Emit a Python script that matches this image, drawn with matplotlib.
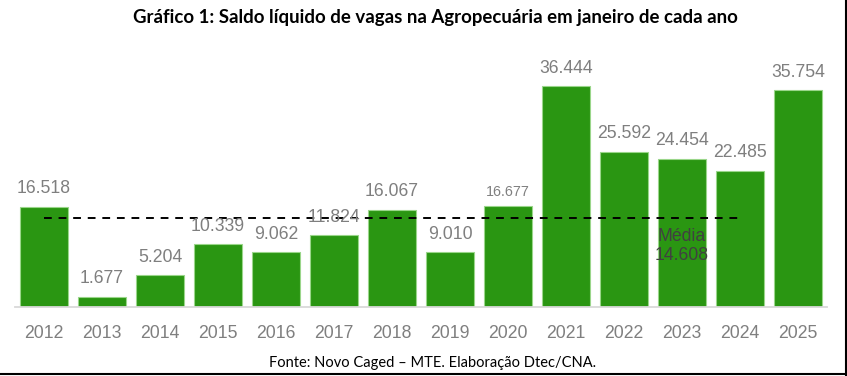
import matplotlib
matplotlib.use("Agg")
import matplotlib.pyplot as plt
from matplotlib.lines import Line2D

years = ["2012", "2013", "2014", "2015", "2016", "2017", "2018",
         "2019", "2020", "2021", "2022", "2023", "2024", "2025"]
values = [16518, 1677, 5204, 10339, 9062, 11824, 16067,
          9010, 16677, 36444, 25592, 24454, 22485, 35754]
labels = ["16.518", "1.677", "5.204", "10.339", "9.062", "11.824", "16.067",
          "9.010", "16.677", "36.444", "25.592", "24.454", "22.485", "35.754"]
media = 14608
media_label = "Média\n14.608"

W, H = 847, 376
fig = plt.figure(figsize=(W / 100, H / 100), dpi=100)
fig.patch.set_facecolor("white")

ax_left, ax_right = 15 / W, 827 / W
ax_bottom = (H - 307) / H
ytop = 40000
top_px = 307 - ytop / 165.0
ax_top = (H - top_px) / H
ax = fig.add_axes([ax_left, ax_bottom, ax_right - ax_left, ax_top - ax_bottom])

x = list(range(len(years)))
ax.bar(x, values, width=0.83, color="#2A9612", edgecolor="#9AD68A", linewidth=0.8, zorder=2)
ax.set_xlim(-0.5, len(years) - 0.5)
ax.set_ylim(0, ytop)

# mean line from first to 2024
ax.plot([0, 12], [media, media], color="black", linestyle=(0, (4, 3.5)), linewidth=1.4, zorder=3)

valfont = dict(family="Liberation Sans", color="#7F7F7F")
for i, (v, lab) in enumerate(zip(values, labels)):
    if years[i] == "2020":
        ax.annotate(lab, (i, v), xytext=(0, 14 * 0.72), textcoords="offset points",
                    ha="center", va="center", fontsize=10.3, zorder=4, **valfont)
    else:
        ax.annotate(lab, (i, v), xytext=(0, 18 * 0.72), textcoords="offset points",
                    ha="center", va="center", fontsize=12.7, zorder=4, **valfont)

ax.text(11, 10065, media_label, ha="center", va="center", fontsize=12.7,
        family="Liberation Sans", color="#404040", linespacing=1.2, zorder=4)

ax.set_xticks(x)
ax.set_xticklabels(years, fontsize=12.7, family="Liberation Sans", color="#7F7F7F")
ax.tick_params(axis="x", length=0, pad=13)
ax.set_yticks([])
for s in ["top", "left", "right"]:
    ax.spines[s].set_visible(False)
ax.spines["bottom"].set_color("#D9D9D9")
ax.spines["bottom"].set_linewidth(1.3)
ax.patch.set_alpha(0)

fig.text(435 / W, 1 - 18 / H, "Gráfico 1: Saldo líquido de vagas na Agropecuária em janeiro de cada ano",
         ha="center", va="center", fontsize=13.4, fontweight="bold", family="Lato", color="black")
fig.text(433 / W, 1 - 363 / H, "Fonte: Novo Caged – MTE. Elaboração Dtec/CNA.",
         ha="center", va="center", fontsize=10.5, family="Lato", color="black")

fig.add_artist(Line2D([845.5 / W, 845.5 / W], [0, 1], transform=fig.transFigure,
                      color="black", linewidth=1.5))
fig.add_artist(Line2D([0, 845.5 / W], [1 - 374 / H, 1 - 374 / H], transform=fig.transFigure,
                      color="black", linewidth=1.5))

fig.savefig("out.png", dpi=100, facecolor="white")
